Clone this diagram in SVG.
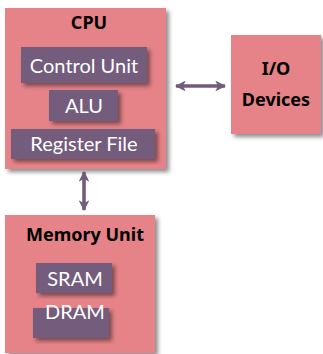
<svg xmlns="http://www.w3.org/2000/svg" width="323" height="354" viewBox="0 0 323 354">
<defs>
<filter id="sh" x="-10%" y="-10%" width="130%" height="130%">
<feDropShadow dx="3" dy="3" stdDeviation="2" flood-color="#000" flood-opacity="0.45"/>
</filter>
<marker id="ah" viewBox="0 0 10 10" refX="9" refY="5" markerWidth="3" markerHeight="3" orient="auto-start-reverse" markerUnits="strokeWidth">
<path d="M0,0 L10,5 L0,10 L2.5,5 z" fill="#735C7B"/>
</marker>
</defs>
<style>
.box{fill:#E58388;filter:url(#sh)}
.inner{fill:#735C7B;filter:url(#sh)}
.title{font-family:"Noto Sans",sans-serif;font-weight:bold;font-size:18px;fill:#000;text-anchor:middle}
.lbl{font-family:Lato,sans-serif;font-size:20px;fill:#fff;text-anchor:middle}
.conn{stroke:#735C7B;stroke-width:3.6;fill:none;marker-start:url(#ah);marker-end:url(#ah)}
</style>
<g id="cpu">
<rect class="box" x="5" y="8" width="161" height="161"/>
<text class="title" x="89" y="29">CPU</text>
</g>
<g id="control-unit">
<rect class="inner" x="21" y="47" width="126" height="36"/>
<text class="lbl" x="84" y="73">Control Unit</text>
</g>
<g id="alu">
<rect class="inner" x="49" y="90" width="69" height="31"/>
<text class="lbl" x="84" y="113">ALU</text>
</g>
<g id="register-file">
<rect class="inner" x="11" y="129" width="144" height="30"/>
<text class="lbl" x="84" y="151">Register File</text>
</g>
<g id="io">
<rect class="box" x="231" y="35" width="90" height="99"/>
<text class="title" x="276" y="75">I/O</text>
<text class="title" x="276" y="106">Devices</text>
</g>
<g id="memory">
<rect class="box" x="5" y="215" width="150" height="138"/>
<text class="title" x="85" y="241">Memory Unit</text>
</g>
<g id="sram">
<rect class="inner" x="36" y="263" width="76" height="30"/>
<text class="lbl" x="75" y="286">SRAM</text>
</g>
<g id="dram">
<rect class="inner" x="33" y="308" width="76" height="30"/>
<text class="lbl" x="75" y="319">DRAM</text>
</g>
<g id="connectors">
<line class="conn" x1="176" y1="86" x2="225" y2="86"/>
<line class="conn" x1="84" y1="172" x2="84" y2="210"/>
</g>
</svg>
